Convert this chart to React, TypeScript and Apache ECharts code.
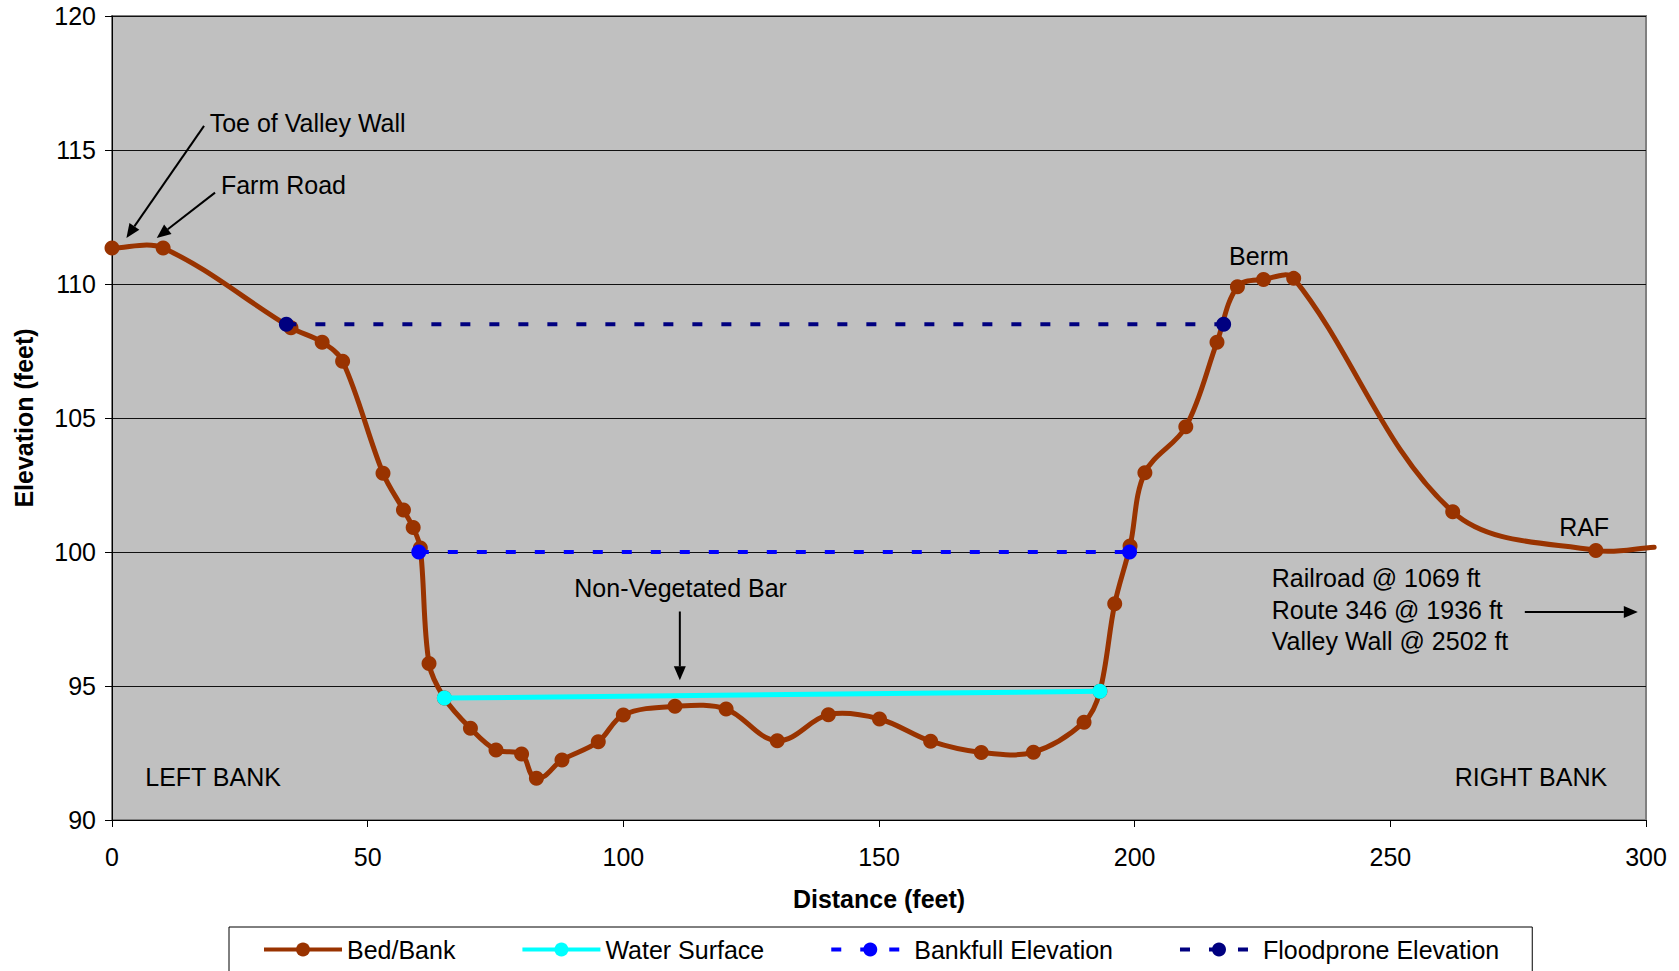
import React, { useEffect, useRef } from "react";
import * as echarts from "echarts";

const FONT = "'Liberation Sans', Arial, Helvetica, sans-serif";

// Bed/Bank survey (distance ft, elevation ft)
const bedDistance = [0, 10, 35, 41.1, 45.1, 53.0, 57.0, 58.9, 60.3, 62.0, 65.0, 70.1, 75.1, 80.1, 83.0, 88.0, 95.1, 100.0, 110.1, 120.1, 130.1, 140.1, 150.1, 160.1, 170.0, 180.2, 190.1, 193.2, 196.1, 199.1, 202.0, 210.0, 216.1, 220.1, 225.2, 231.1, 262.2, 290.2, 301.6];
const bedElevation = [111.34, 111.34, 108.37, 107.83, 107.12, 102.94, 101.57, 100.91, 100.15, 95.84, 94.55, 93.42, 92.61, 92.46, 91.56, 92.24, 92.92, 93.92, 94.24, 94.14, 92.96, 93.93, 93.77, 92.94, 92.52, 92.53, 93.65, 94.8, 98.07, 100.22, 102.96, 104.67, 107.83, 109.9, 110.17, 110.21, 101.5, 100.06, 100.18];

const waterDistance = [65.0, 193.2];
const waterElevation = [94.55, 94.8];

const bankfullDistance = [60.0, 199.0];
const bankfullElevation = [100.0, 100.0];

const floodproneDistance = [34.1, 217.4];
const floodproneElevation = [108.5, 108.5];

const seriesNames = ["Bed/Bank", "Water Surface", "Bankfull Elevation", "Floodprone Elevation"];

// annotations in data coordinates
const textNotes = [
  { text: "Toe of Valley Wall", x: 19.1, y: 116.0, align: "left" },
  { text: "Farm Road", x: 21.3, y: 113.7, align: "left" },
  { text: "Berm", x: 224.3, y: 111.06, align: "center" },
  { text: "RAF", x: 287.9, y: 100.93, align: "center" },
  { text: "Railroad @ 1069 ft", x: 226.8, y: 99.04, align: "left" },
  { text: "Route 346 @ 1936 ft", x: 226.8, y: 97.85, align: "left" },
  { text: "Valley Wall @ 2502 ft", x: 226.8, y: 96.67, align: "left" },
  { text: "Non-Vegetated Bar", x: 111.2, y: 98.66, align: "center" },
  { text: "LEFT BANK", x: 6.5, y: 91.61, align: "left" },
  { text: "RIGHT BANK", x: 292.4, y: 91.61, align: "right" },
];
const arrowNotes = [
  { from: [18.0, 115.9], to: [2.82, 111.72] },
  { from: [20.15, 113.41], to: [8.75, 111.72] },
  { from: [276.3, 97.76], to: [298.4, 97.76] },
  { from: [111.05, 97.78], to: [111.05, 95.21] },
];

const zip = (xs: number[], ys: number[]) => xs.map((x, i) => [x, ys[i]]);
const BROWN = "#993300";

export default function App() {
  const ref = useRef<HTMLDivElement>(null);
  useEffect(() => {
    const chart = echarts.init(ref.current!, null, { renderer: "svg" });
    const n = bedDistance.length;
    const bedData: any[] = zip(bedDistance, bedElevation).map((p, i) =>
      i === n - 1 ? { value: p, symbol: "none" } : p
    );

    // Excel-like smoothed curve: bezier segments, tangent direction from neighbours,
    // control distance = one third of the segment's own length (no overshoot on short segments)
    const renderBedCurve = (params: any, api: any) => {
      const i = params.dataIndex;
      if (i >= n - 1) return null;
      const P = (k: number) => {
        const kk = Math.max(0, Math.min(n - 1, k));
        return api.coord([bedDistance[kk], bedElevation[kk]]);
      };
      const p0 = P(i - 1);
      const p1 = P(i);
      const p2 = P(i + 1);
      const p3 = P(i + 2);
      const d = Math.hypot(p2[0] - p1[0], p2[1] - p1[1]);
      const unit = (a: number[], b: number[]) => {
        const l = Math.hypot(b[0] - a[0], b[1] - a[1]) || 1;
        return [(b[0] - a[0]) / l, (b[1] - a[1]) / l];
      };
      const t1 = unit(p0, p2);
      const t2 = unit(p1, p3);
      const k = d / 3;
      return {
        type: "bezierCurve",
        shape: {
          x1: p1[0],
          y1: p1[1],
          x2: p2[0],
          y2: p2[1],
          cpx1: p1[0] + t1[0] * k,
          cpy1: p1[1] + t1[1] * k,
          cpx2: p2[0] - t2[0] * k,
          cpy2: p2[1] - t2[1] * k,
        },
        style: { stroke: BROWN, lineWidth: 5, fill: "none", lineCap: "round" },
      };
    };

    const option: any = {
      animation: false,
      backgroundColor: "#ffffff",
      textStyle: { fontFamily: FONT },
      grid: {
        left: 112,
        right: 33,
        top: 16,
        bottom: 151,
        show: true,
        backgroundColor: "#C0C0C0",
        borderColor: "#808080",
        borderWidth: 2,
      },
      xAxis: {
        type: "value",
        min: 0,
        max: 300,
        interval: 50,
        name: "Distance (feet)",
        nameLocation: "middle",
        nameGap: 66,
        nameTextStyle: { fontSize: 25, fontWeight: "bold", color: "#000", fontFamily: FONT },
        axisLine: { show: true, lineStyle: { color: "#000", width: 1 } },
        axisTick: { show: true, inside: false, length: 7, lineStyle: { color: "#000" } },
        axisLabel: { fontSize: 25, color: "#000", margin: 24, fontFamily: FONT },
        splitLine: { show: false },
      },
      yAxis: {
        type: "value",
        min: 90,
        max: 120,
        interval: 5,
        name: "Elevation (feet)",
        nameLocation: "middle",
        nameGap: 76,
        nameTextStyle: { fontSize: 25, fontWeight: "bold", color: "#000", fontFamily: FONT },
        axisLine: { show: true, lineStyle: { color: "#000", width: 1 } },
        axisTick: { show: true, inside: false, length: 7, lineStyle: { color: "#000" } },
        axisLabel: { fontSize: 25, color: "#000", margin: 16, fontFamily: FONT },
        splitLine: { show: true, lineStyle: { color: "#111", width: 1 } },
      },
      legend: {
        data: seriesNames,
        left: 229,
        top: 927,
        orient: "horizontal",
        padding: [10, 33, 40, 33],
        itemWidth: 78,
        itemHeight: 17.5,
        itemGap: 65,
        borderColor: "#000",
        borderWidth: 1,
        backgroundColor: "#ffffff",
        lineStyle: { width: 4 },
        textStyle: { fontSize: 25, color: "#000", fontFamily: FONT },
      },
      series: [
        {
          name: "Bed/Bank curve",
          type: "custom",
          data: zip(bedDistance, bedElevation),
          encode: { x: 0, y: 1 },
          renderItem: renderBedCurve,
          clip: false,
          silent: true,
          z: 1,
        },
        {
          name: seriesNames[0],
          type: "line",
          data: bedData,
          clip: false,
          symbol: "circle",
          symbolSize: 15,
          itemStyle: { color: BROWN },
          lineStyle: { color: BROWN, width: 0 },
          z: 2,
        },
        {
          name: seriesNames[1],
          type: "line",
          data: zip(waterDistance, waterElevation),
          symbol: "circle",
          symbolSize: 15,
          itemStyle: { color: "#00FFFF" },
          lineStyle: { color: "#00FFFF", width: 5 },
          z: 3,
        },
        {
          name: seriesNames[2],
          type: "line",
          data: zip(bankfullDistance, bankfullElevation),
          symbol: "circle",
          symbolSize: 15,
          itemStyle: { color: "#0000FF" },
          lineStyle: { color: "#0000FF", width: 4, type: [10, 19], cap: "butt" },
          z: 3,
        },
        {
          name: seriesNames[3],
          type: "line",
          data: zip(floodproneDistance, floodproneElevation),
          symbol: "circle",
          symbolSize: 15,
          itemStyle: { color: "#000080" },
          lineStyle: { color: "#000080", width: 4, type: [10, 19], cap: "butt" },
          z: 3,
        },
      ],
    };
    chart.setOption(option);

    const px = (p: number[]) => chart.convertToPixel({ gridIndex: 0 }, p) as number[];
    const elements: any[] = [];
    textNotes.forEach((t) => {
      const [x, y] = px([t.x, t.y]);
      elements.push({
        type: "text",
        x,
        y,
        z: 10,
        style: {
          text: t.text,
          fontSize: 25,
          fontFamily: FONT,
          fill: "#000",
          align: t.align,
          verticalAlign: "middle",
        },
      });
    });
    arrowNotes.forEach((a) => {
      const p0 = px(a.from);
      const p1 = px(a.to);
      const dx = p1[0] - p0[0];
      const dy = p1[1] - p0[1];
      const L = Math.hypot(dx, dy);
      const ux = dx / L;
      const uy = dy / L;
      const len = 14;
      const hw = 6;
      const base = [p1[0] - ux * len, p1[1] - uy * len];
      elements.push({
        type: "line",
        z: 10,
        shape: { x1: p0[0], y1: p0[1], x2: base[0], y2: base[1] },
        style: { stroke: "#000", lineWidth: 2 },
      });
      elements.push({
        type: "polygon",
        z: 10,
        shape: {
          points: [
            [p1[0], p1[1]],
            [base[0] - uy * hw, base[1] + ux * hw],
            [base[0] + uy * hw, base[1] - ux * hw],
          ],
        },
        style: { fill: "#000" },
      });
    });
    chart.setOption({ graphic: { elements } });

    return () => chart.dispose();
  }, []);
  return (
    <div
      ref={ref}
      style={{ position: "fixed", left: 0, top: 0, width: 1679, height: 971, background: "#fff" }}
    />
  );
}
